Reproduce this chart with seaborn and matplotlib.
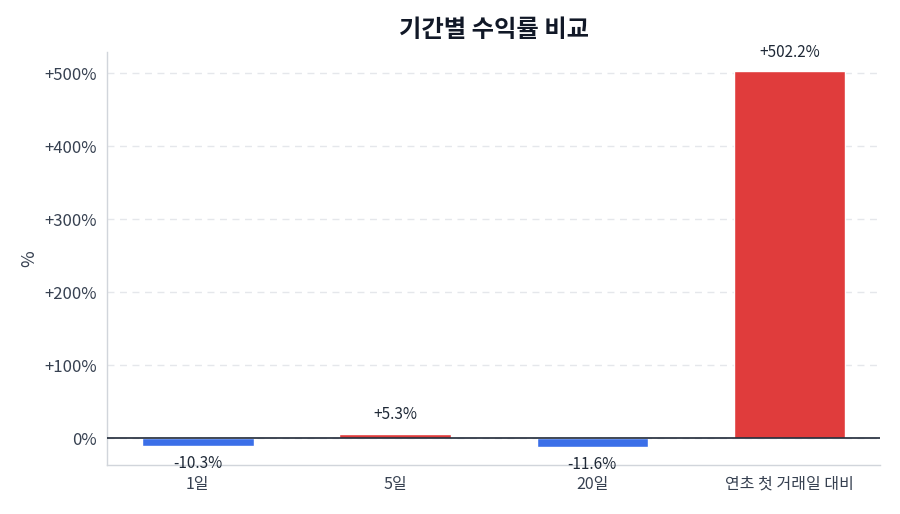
import matplotlib
matplotlib.use("Agg")
import matplotlib.pyplot as plt
import seaborn as sns
import pandas as pd
from matplotlib.ticker import FuncFormatter

periods = ["1일", "5일", "20일", "연초 첫 거래일 대비"]
returns = [-10.3, 5.3, -11.6, 502.2]

sns.set_theme(style="white")
plt.rcParams['font.family'] = ['Noto Sans CJK KR', 'DejaVu Sans']
plt.rcParams['axes.unicode_minus'] = False

df = pd.DataFrame({"period": periods, "ret": returns})
colors = ["#E03C3C" if v >= 0 else "#3B6FE8" for v in returns]

fig, ax = plt.subplots(figsize=(9, 5.14), dpi=100)
fig.subplots_adjust(left=0.119, right=0.978, top=0.899, bottom=0.095)

sns.barplot(data=df, x="period", y="ret", hue="period", palette=colors,
            legend=False, width=0.565, ax=ax, saturation=1)

ax.axhline(0, color="#1f2937", lw=1.2, zorder=3)
ax.set_ylim(-37, 529)
ax.set_xlim(-0.46, 3.46)
ax.set_yticks([0, 100, 200, 300, 400, 500])
ax.yaxis.set_major_formatter(FuncFormatter(lambda v, p: "0%" if v == 0 else f"+{v:.0f}%"))
ax.grid(axis="y", linestyle=(0, (5, 4)), color="#e5e7eb", lw=1)
ax.set_axisbelow(True)

for i, v in enumerate(returns):
    if v >= 0:
        ax.annotate(f"+{v:.1f}%", (i, v), xytext=(0, 14), textcoords="offset points",
                    ha="center", va="center", fontsize=11, color="#1f2937")
    else:
        ax.annotate(f"{v:.1f}%", (i, v), xytext=(0, -13), textcoords="offset points",
                    ha="center", va="center", fontsize=11, color="#1f2937")

ax.set_title("기간별 수익률 비교", fontsize=17.5, fontweight="bold", color="#111827", pad=11)
ax.set_xlabel("")
ax.set_ylabel("%", fontsize=13, color="#374151")
ax.tick_params(axis="x", labelsize=11.5)
ax.tick_params(axis="y", labelsize=12)
ax.tick_params(axis="both", colors="#374151", length=4, color="#374151", width=1)
for s in ["top", "right"]:
    ax.spines[s].set_visible(False)
for s in ["left", "bottom"]:
    ax.spines[s].set_color("#d1d5db")
    ax.spines[s].set_linewidth(1)

fig.savefig("out.png", dpi=100)
